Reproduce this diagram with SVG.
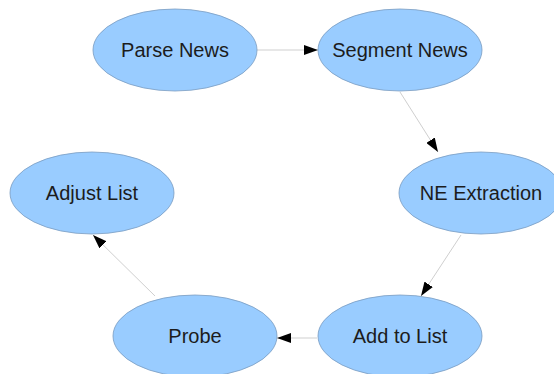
<svg xmlns="http://www.w3.org/2000/svg" width="554" height="374" viewBox="0 0 554 374">
  <style>
    .node ellipse { fill: #99ccff; stroke: #7a9cc0; stroke-width: 0.8; }
    .node text { font-family: "Liberation Sans", Arial, sans-serif; font-size: 20px; fill: #1c1c1c; text-anchor: middle; dominant-baseline: central; }
    .edge { stroke: #cfcfcf; stroke-width: 1; fill: none; marker-end: url(#arrow); }
  </style>
  <defs>
    <marker id="arrow" viewBox="0 0 14 10" refX="14" refY="5" markerWidth="14" markerHeight="10" markerUnits="userSpaceOnUse" orient="auto">
      <path d="M0,0 L14,5 L0,10 Z" fill="#000"/>
    </marker>
  </defs>
  <rect width="554" height="374" fill="#ffffff"/>

  <g id="connectors">
    <line class="edge" x1="257" y1="50" x2="318" y2="50"/>
    <line class="edge" x1="400" y1="92" x2="438" y2="152"/>
    <line class="edge" x1="461" y1="235" x2="421" y2="296"/>
    <line class="edge" x1="317" y1="338" x2="277" y2="338"/>
    <line class="edge" x1="155" y1="296" x2="93" y2="235"/>
  </g>

  <g id="parse-news" class="node">
    <ellipse cx="175" cy="50" rx="82" ry="41"/>
    <text x="175" y="50">Parse News</text>
  </g>
  <g id="segment-news" class="node">
    <ellipse cx="400" cy="50" rx="82" ry="41"/>
    <text x="400" y="50">Segment News</text>
  </g>
  <g id="ne-extraction" class="node">
    <ellipse cx="481" cy="193" rx="82" ry="41"/>
    <text x="481" y="193">NE Extraction</text>
  </g>
  <g id="add-to-list" class="node">
    <ellipse cx="400" cy="336" rx="82" ry="41"/>
    <text x="400" y="336">Add to List</text>
  </g>
  <g id="probe" class="node">
    <ellipse cx="195" cy="336" rx="82" ry="41"/>
    <text x="195" y="336">Probe</text>
  </g>
  <g id="adjust-list" class="node">
    <ellipse cx="92" cy="193" rx="82" ry="41"/>
    <text x="92" y="193">Adjust List</text>
  </g>
</svg>
